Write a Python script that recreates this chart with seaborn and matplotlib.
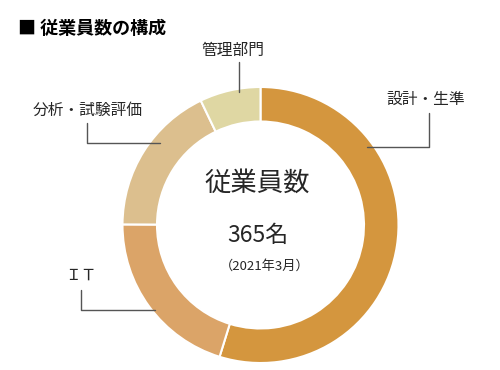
import matplotlib
matplotlib.use("Agg")
import matplotlib.pyplot as plt
import seaborn as sns
from matplotlib.lines import Line2D

# data (total 365)
labels = ["設計・生準", "ＩＴ", "分析・試験評価", "管理部門"]
counts = [200, 74, 65, 26]
colors = ["#D4963E", "#DBA468", "#DCBF8E", "#DFD7A3"]

sns.set_style("white")
plt.rcParams['font.family'] = ['Noto Sans CJK JP', 'DejaVu Sans']

W, H = 500, 370
fig = plt.figure(figsize=(5, 3.7), dpi=100)
fig.patch.set_facecolor("white")

def fx(x):
    return x / W

def fy(y):
    return 1 - y / H

# donut
cx, cy, r = 260.5, 225, 138
ax = fig.add_axes([fx(cx - r), fy(cy + r), 2 * r / W, 2 * r / H])
ax.pie(counts, colors=colors, startangle=90, counterclock=False, radius=1,
       wedgeprops=dict(width=0.25, edgecolor="white", linewidth=1.5))
ax.set_xlim(-1, 1)
ax.set_ylim(-1, 1)
ax.set_aspect("equal")
ax.axis("off")

# title
fig.text(fx(18), fy(28), "■ 従業員数の構成", fontsize=13, fontweight="bold",
         ha="left", va="center", color="black")

# center text
fig.text(fx(257), fy(183), "従業員数", fontsize=19, ha="center", va="center")
fig.text(fx(258), fy(235), "365名", fontsize=16.5, ha="center", va="center")
fig.text(fx(265), fy(266), "（2021年3月）", fontsize=9.5, ha="center", va="center")

# outside labels
label_pos = {
    "設計・生準": (426, 99),
    "ＩＴ": (81, 275),
    "分析・試験評価": (88, 110),
    "管理部門": (233, 50),
}
for lab in labels:
    x, y = label_pos[lab]
    fig.text(fx(x), fy(y), lab, fontsize=11.3, ha="center", va="center")

# connector lines
connectors = [
    [(429, 113), (429, 147), (367, 147)],
    [(81, 290), (81, 310), (155, 310)],
    [(87, 123), (87, 143), (160, 143)],
    [(239, 62), (239, 92)],
]
for pts in connectors:
    xs = [fx(p[0]) for p in pts]
    ys = [fy(p[1]) for p in pts]
    fig.add_artist(Line2D(xs, ys, transform=fig.transFigure, color="#555555", lw=1))

fig.savefig("out.png", dpi=100)
